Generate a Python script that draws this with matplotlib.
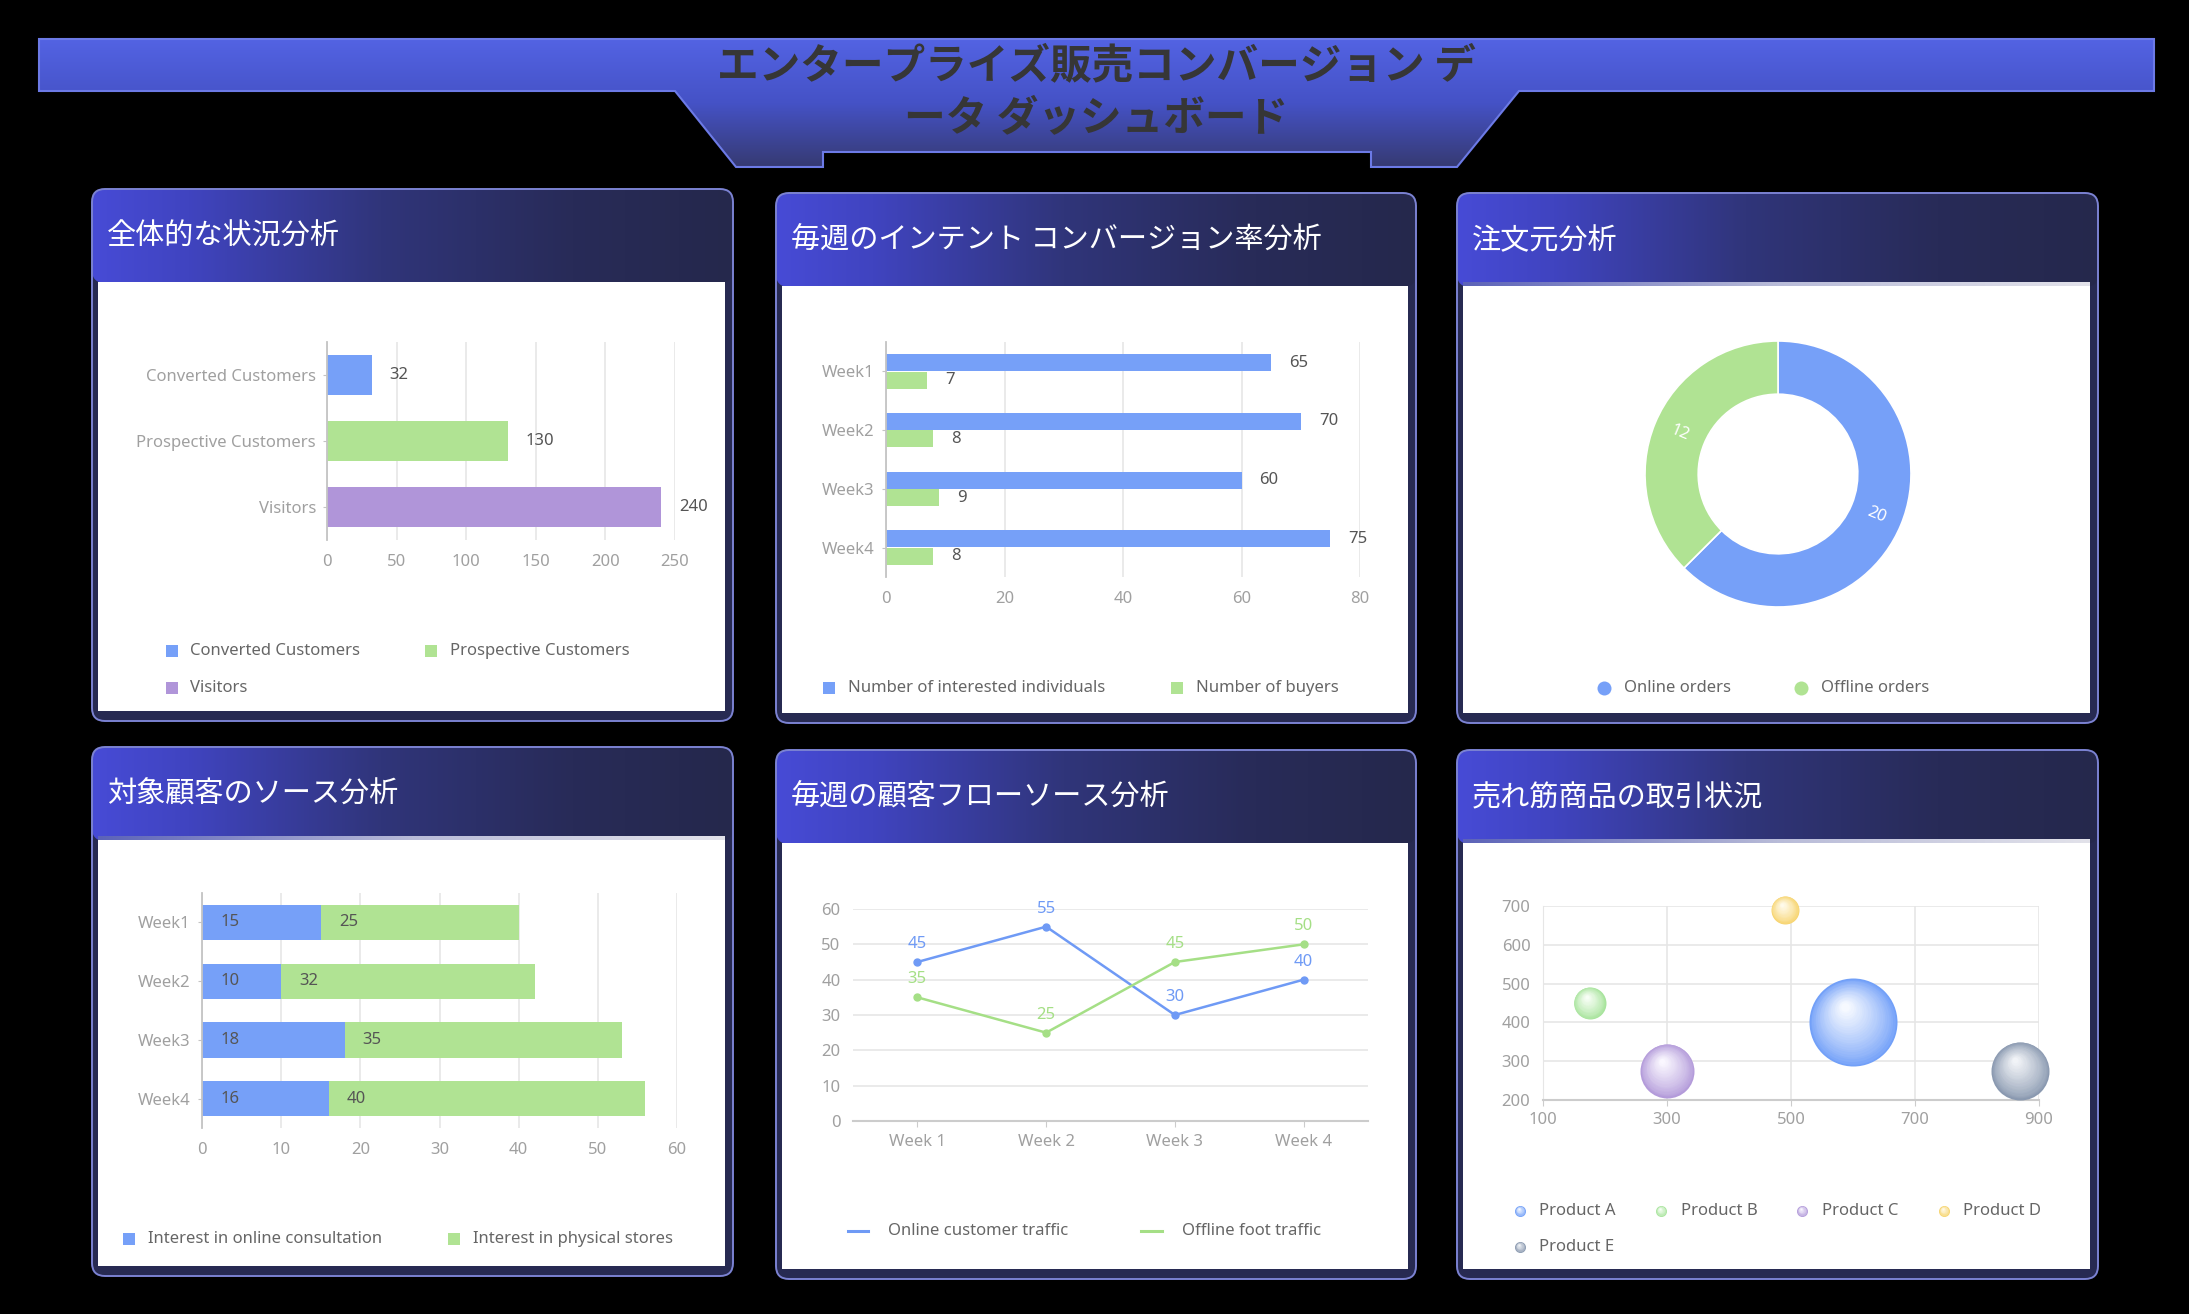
import matplotlib
matplotlib.use('Agg')
import matplotlib.pyplot as plt
import numpy as np
from matplotlib.patches import FancyBboxPatch, Polygon, Rectangle
from matplotlib.colors import LinearSegmentedColormap, to_rgb
from matplotlib.transforms import offset_copy

W, H = 2189, 1314
DPI = 100

plt.rcParams['font.family'] = ['Noto Sans', 'Noto Sans CJK JP', 'DejaVu Sans']
JP = ['Noto Sans CJK JP', 'DejaVu Sans']

# ---- data ----
main_title = ['エンタープライズ販売コンバージョン デ', 'ータ ダッシュボード']
panel_titles = ['全体的な状況分析', '毎週のインテント コンバージョン率分析', '注文元分析',
                '対象顧客のソース分析', '毎週の顧客フローソース分析', '売れ筋商品の取引状況']

funnel_labels = ['Converted Customers', 'Prospective Customers', 'Visitors']
funnel_values = [32, 130, 240]

weeks = ['Week1', 'Week2', 'Week3', 'Week4']
interested = [65, 70, 60, 75]
buyers = [7, 8, 9, 8]
intent_series = ['Number of interested individuals', 'Number of buyers']

order_labels = ['Online orders', 'Offline orders']
order_values = [20, 12]

online_consult = [15, 10, 18, 16]
physical_store = [25, 32, 35, 40]
source_series = ['Interest in online consultation', 'Interest in physical stores']

flow_weeks = ['Week 1', 'Week 2', 'Week 3', 'Week 4']
online_traffic = [45, 55, 30, 40]
offline_traffic = [35, 25, 45, 50]
flow_series = ['Online customer traffic', 'Offline foot traffic']

products = ['Product A', 'Product B', 'Product C', 'Product D', 'Product E']
prod_x = [600, 175, 300, 490, 870]
prod_y = [400, 450, 275, 690, 275]
prod_volume = [44, 16, 27, 14, 29]

# ---- styles ----
BLUE, GREEN, PURPLE = '#76a0f8', '#b0e393', '#b095d9'
LBLUE, LGREEN = '#6f9af5', '#a5df86'
bub_edge = ['#72a0f8', '#a8e49d', '#b39bda', '#f7d46f', '#8a99b0']
bub_light = ['#f6f9ff', '#f8fff6', '#faf7ff', '#fffbeb', '#f1f3f7']
TICK = '#a0a0a0'
VAL = '#555555'
LEG = '#666666'
GRID = '#e6e6e6'

fig = plt.figure(figsize=(W / DPI, H / DPI), dpi=DPI, facecolor='black')
bg = fig.add_axes([0, 0, 1, 1])
bg.set_xlim(0, W)
bg.set_ylim(H, 0)
bg.set_autoscale_on(False)
bg.axis('off')


def px_axes(x0, y0, x1, y1):
    return fig.add_axes([x0 / W, 1 - y1 / H, (x1 - x0) / W, (y1 - y0) / H])


head_cmap = LinearSegmentedColormap.from_list('head', [
    (0.0, '#474bd6'), (0.15, '#4044c0'), (0.45, '#30357a'), (0.75, '#282b58'), (1.0, '#25284c')])
strip_cmap = LinearSegmentedColormap.from_list('strip', ['#5c63b8', '#b8bbd8', '#e2e2ea'])
banner_cmap = LinearSegmentedColormap.from_list('banner', ['#5363e3', '#4552c6', '#363a72'])

# ---- banner ----
pts = [(39, 39), (2154, 39), (2154, 91), (1519, 91), (1457, 167), (1371, 167), (1371, 152),
       (823, 152), (823, 167), (736, 167), (675, 91), (39, 91)]
shape = Polygon(pts, closed=True, fc='none', ec='none')
bg.add_patch(shape)
im = bg.imshow(np.linspace(0, 1, 256).reshape(-1, 1), extent=(39, 2154, 167, 39),
               cmap=banner_cmap, aspect='auto', interpolation='bilinear', zorder=1)
im.set_clip_path(shape)
bg.add_patch(Polygon(pts, closed=True, fc='none', ec='#6c7ae6', lw=1.5, zorder=2))
bg.text(1096, 66, main_title[0], ha='center', va='center', fontsize=30, fontweight='bold',
        color='#363636', family=JP, zorder=3)
bg.text(1096, 119, main_title[1], ha='center', va='center', fontsize=30, fontweight='bold',
        color='#363636', family=JP, zorder=3)

# ---- panels ----
panels = [(92, 189, 733, 721), (776, 193, 1416, 723), (1457, 193, 2098, 723),
          (92, 747, 733, 1276), (776, 750, 1416, 1279), (1457, 750, 2098, 1279)]
strips = [False, False, True, True, False, True]
for (x0, y0, x1, y1), title, st in zip(panels, panel_titles, strips):
    bg.add_patch(FancyBboxPatch((x0, y0), x1 - x0, y1 - y0, boxstyle='round,pad=0,rounding_size=13',
                                fc='#272a52', ec='none', zorder=1))
    head = FancyBboxPatch((x0, y0), x1 - x0, 94, boxstyle='round,pad=0,rounding_size=13',
                          fc='none', ec='none')
    bg.add_patch(head)
    im = bg.imshow(np.linspace(0, 1, 256).reshape(1, -1), extent=(x0, x1, y0 + 94, y0),
                   cmap=head_cmap, aspect='auto', interpolation='bilinear', zorder=2)
    im.set_clip_path(head)
    bg.add_patch(Rectangle((x0 + 6, y0 + 93), (x1 - x0) - 14, (y1 - 10) - (y0 + 93),
                           fc='white', ec='none', zorder=3))
    if st:
        bg.imshow(np.linspace(0, 1, 256).reshape(1, -1), extent=(x0 + 6, x1 - 8, y0 + 93, y0 + 89),
                  cmap=strip_cmap, aspect='auto', interpolation='bilinear', zorder=3)
    bg.add_patch(FancyBboxPatch((x0, y0), x1 - x0, y1 - y0, boxstyle='round,pad=0,rounding_size=13',
                                fc='none', ec='#7b82d2', lw=1.4, zorder=5))
    bg.text(x0 + 15, y0 + 48, title, color='white', fontsize=21, ha='left', va='center',
            family=JP, zorder=6)


def style_bar_axes(ax, xmax, step):
    ax.set_facecolor('none')
    ax.set_xlim(0, xmax)
    ax.set_xticks(np.arange(0, xmax + 1, step))
    ax.grid(axis='x', color=GRID, lw=1.2)
    ax.set_axisbelow(True)
    for s in ['top', 'right', 'bottom']:
        ax.spines[s].set_visible(False)
    ax.spines['left'].set_color('#c4c4c4')
    ax.spines['left'].set_linewidth(1.3)
    ax.tick_params(axis='y', length=3, color='#c4c4c4', pad=5, labelsize=12, labelcolor=TICK)
    ax.tick_params(axis='x', length=0, pad=10, labelsize=12, labelcolor=TICK)


def legend_rects(items, y):
    for cx, tx, label, color in items:
        bg.add_patch(Rectangle((cx - 6, y - 6), 12, 12, fc=color, ec='none', zorder=7))
        bg.text(tx, y, label, color=LEG, fontsize=12, ha='left', va='center', zorder=7)


def bubble(ax, x, y, d_px, edge, light, n=24):
    e = np.array(to_rgb(edge))
    l = np.array(to_rgb(light))
    for k in range(n):
        t = k / (n - 1)
        dd = d_px * (1 - 0.9 * t)
        dx = -0.1 * d_px * 0.9 * t
        dy = 0.2 * d_px * 0.9 * t
        tr = offset_copy(ax.transData, fig=fig, x=dx * 72 / DPI, y=dy * 72 / DPI, units='points')
        ax.scatter([x], [y], s=(dd * 72 / DPI) ** 2, color=e + (l - e) * t ** 0.8,
                   transform=tr, clip_on=False, zorder=8 + k * 0.01, linewidths=0)


# ---- chart 1: overall ----
ax1 = px_axes(327, 342, 675, 540)
y1 = np.arange(len(funnel_labels))
ax1.barh(y1, funnel_values, height=0.6, color=[BLUE, GREEN, PURPLE], zorder=2)
style_bar_axes(ax1, 250, 50)
ax1.set_ylim(len(funnel_labels) - 0.5, -0.5)
ax1.set_yticks(y1, funnel_labels)
for v, yi in zip(funnel_values, y1):
    ax1.annotate(str(v), (v, yi), xytext=(13, 0), textcoords='offset points', ha='left',
                 va='center', color=VAL, fontsize=12)
legend_rects([(172, 190, funnel_labels[0], BLUE), (431, 450, funnel_labels[1], GREEN)], 651)
legend_rects([(172, 190, funnel_labels[2], PURPLE)], 688)

# ---- chart 2: weekly intent ----
ax2 = px_axes(886, 342, 1360, 577)
y2 = np.arange(len(weeks))
ax2.barh(y2 - 0.15, interested, height=0.29, color=BLUE, zorder=2)
ax2.barh(y2 + 0.15, buyers, height=0.29, color=GREEN, zorder=2)
style_bar_axes(ax2, 80, 20)
ax2.set_ylim(len(weeks) - 0.5, -0.5)
ax2.set_yticks(y2, weeks)
for vals, off in [(interested, -0.15), (buyers, 0.15)]:
    for v, yi in zip(vals, y2):
        ax2.annotate(str(v), (v, yi + off), xytext=(13, 0), textcoords='offset points',
                     ha='left', va='center', color=VAL, fontsize=12)
legend_rects([(829, 848, intent_series[0], BLUE), (1177, 1196, intent_series[1], GREEN)], 688)

# ---- chart 3: order source donut ----
cx3, cy3, r3 = 1778, 474, 133
ax3 = px_axes(cx3 - r3, cy3 - r3, cx3 + r3, cy3 + r3)
wedges, _ = ax3.pie(order_values, colors=[BLUE, GREEN], startangle=90, counterclock=False,
                    radius=1, wedgeprops=dict(width=0.4, edgecolor='white', linewidth=1.2))
ax3.set_xlim(-1, 1)
ax3.set_ylim(-1, 1)
ax3.axis('off')
for w, v in zip(wedges, order_values):
    mid = (w.theta1 + w.theta2) / 2
    mid = (mid + 180) % 360 - 180
    rot = mid if -90 <= mid <= 90 else mid - 180
    ax3.text(0.8 * np.cos(np.radians(mid)), 0.8 * np.sin(np.radians(mid)), str(v),
             rotation=rot, rotation_mode='anchor', ha='center', va='center',
             color='white', fontsize=12)
for cx, tx, label, color in [(1604, 1624, order_labels[0], BLUE), (1801, 1821, order_labels[1], GREEN)]:
    bg.scatter([cx], [688], s=(14 * 0.72) ** 2, color=color, zorder=7, linewidths=0)
    bg.text(tx, 688, label, color=LEG, fontsize=12, ha='left', va='center', zorder=7)

# ---- chart 4: customer source stacked ----
ax4 = px_axes(202, 893, 677, 1128)
y4 = np.arange(len(weeks))
ax4.barh(y4, online_consult, height=0.6, color=BLUE, zorder=2)
ax4.barh(y4, physical_store, left=online_consult, height=0.6, color=GREEN, zorder=2)
style_bar_axes(ax4, 60, 10)
ax4.set_ylim(len(weeks) - 0.5, -0.5)
ax4.set_yticks(y4, weeks)
for a, b, yi in zip(online_consult, physical_store, y4):
    ax4.annotate(str(a), (0, yi), xytext=(13, 0), textcoords='offset points', ha='left',
                 va='center', color=VAL, fontsize=12)
    ax4.annotate(str(b), (a, yi), xytext=(13, 0), textcoords='offset points', ha='left',
                 va='center', color=VAL, fontsize=12)
legend_rects([(129, 148, source_series[0], BLUE), (454, 473, source_series[1], GREEN)], 1239)

# ---- chart 5: weekly flow lines ----
ax5 = px_axes(853, 909, 1368, 1121)
x5 = np.arange(len(flow_weeks))
for vals, color in [(online_traffic, LBLUE), (offline_traffic, LGREEN)]:
    ax5.plot(x5, vals, color=color, lw=1.8, marker='o', markersize=5, zorder=3, clip_on=False)
    for xi, v in zip(x5, vals):
        ax5.annotate(str(v), (xi, v), xytext=(0, 13), textcoords='offset points', ha='center',
                     va='center', color=color, fontsize=12)
ax5.set_facecolor('none')
ax5.set_xlim(-0.5, len(flow_weeks) - 0.5)
ax5.set_ylim(0, 60)
ax5.set_yticks(np.arange(0, 61, 10))
ax5.set_xticks(x5, flow_weeks)
ax5.grid(axis='y', color=GRID, lw=1.2)
ax5.set_axisbelow(True)
for s in ['top', 'right', 'left']:
    ax5.spines[s].set_visible(False)
ax5.spines['bottom'].set_color('#cccccc')
ax5.spines['bottom'].set_linewidth(1.5)
ax5.tick_params(axis='x', length=4, color='#cccccc', pad=5, labelsize=12, labelcolor=TICK)
ax5.tick_params(axis='y', length=0, pad=9, labelsize=12, labelcolor=TICK)
for x0, x1, tx, label, color in [(848, 868, 888, flow_series[0], LBLUE), (1141, 1162, 1182, flow_series[1], LGREEN)]:
    bg.plot([x0, x1], [1231, 1231], color=color, lw=2.2, zorder=7)
    bg.text(tx, 1231, label, color=LEG, fontsize=12, ha='left', va='center', zorder=7)

# ---- chart 6: bubbles ----
ax6 = px_axes(1543, 906, 2039, 1100)
ax6.set_facecolor('none')
ax6.set_xlim(100, 900)
ax6.set_ylim(200, 700)
ax6.set_xticks(np.arange(100, 901, 200))
ax6.set_yticks(np.arange(200, 701, 100))
ax6.grid(True, color=GRID, lw=1.2)
ax6.set_axisbelow(True)
for s in ['top', 'right']:
    ax6.spines[s].set_visible(False)
ax6.spines['left'].set_color(GRID)
ax6.spines['bottom'].set_color('#cccccc')
ax6.spines['bottom'].set_linewidth(1.5)
ax6.tick_params(axis='x', length=4, color='#cccccc', pad=5, labelsize=12, labelcolor=TICK)
ax6.tick_params(axis='y', length=0, pad=9, labelsize=12, labelcolor=TICK)
for xv, yv, vol, e, l in zip(prod_x, prod_y, prod_volume, bub_edge, bub_light):
    bubble(ax6, xv, yv, 2 * vol, e, l)
leg6 = [(1520, 1539, 1211), (1661, 1681, 1211), (1802, 1822, 1211), (1944, 1963, 1211), (1520, 1539, 1247)]
for (cx, tx, ly), label, e, l in zip(leg6, products, bub_edge, bub_light):
    bubble(bg, cx, ly, 11, e, l, n=10)
    bg.text(tx, ly, label, color=LEG, fontsize=12, ha='left', va='center', zorder=9)

fig.savefig('out.png', dpi=DPI, facecolor='black')
